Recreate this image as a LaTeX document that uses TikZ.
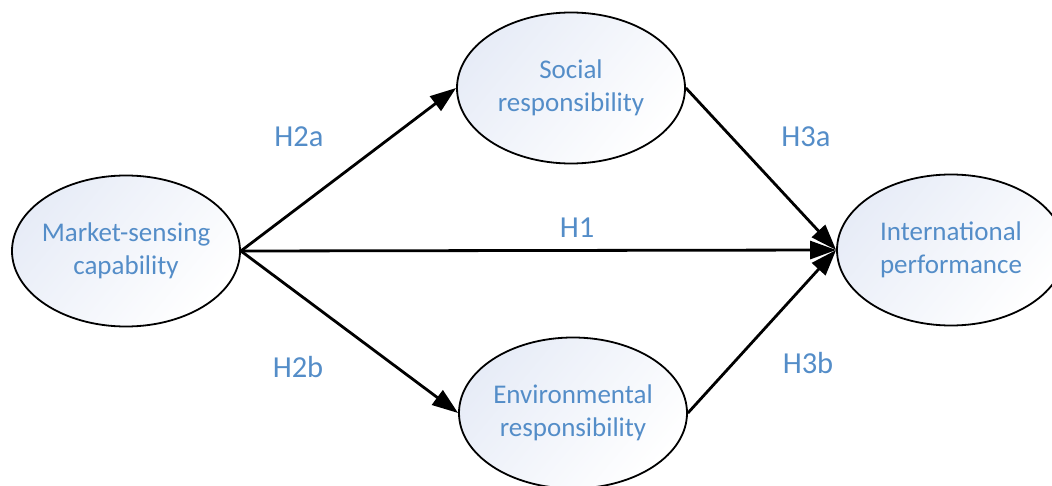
\documentclass[tikz,border=0pt]{standalone}
\usepackage{fontspec}
\setmainfont{Carlito}
\usetikzlibrary{shapes.geometric,arrows.meta}
\definecolor{txtblue}{RGB}{84,141,200}
\definecolor{fillblue}{RGB}{231,236,247}
\tikzset{
  construct/.style={ellipse, draw=black, line width=1.8pt, minimum width=228pt, minimum height=151pt,
    inner xsep=-20pt, inner ysep=0pt, align=center, text=txtblue, font=\fontsize{27}{32.5}\selectfont,
    top color=fillblue, bottom color=white, shading angle=50},
  arr/.style={line width=2.8pt, -{Triangle[length=26pt,width=18pt]}},
  hyp/.style={text=txtblue, font=\fontsize{30.5}{36}\selectfont, inner sep=0pt}
}
\begin{document}
\begin{tikzpicture}[x=1pt,y=1pt]
\useasboundingbox (0,0) rectangle (1052,485);
\clip (0,0) rectangle (1052,485);
\node[construct] (M) at (126,234) {Market-sensing\\capability};
\node[construct] (S) at (571,397) {Social\\responsibility};
\node[construct] (E) at (573,72) {Environmental\\responsibility};
\node[construct] (I) at (951,235) {International\\performance};
\draw[arr] (M.east) -- (S.west);
\draw[arr] (M.east) -- (E.west);
\draw[arr] (M.east) -- (I.west);
\draw[arr] (S.east) -- (I.west);
\draw[arr] (E.east) -- (I.west);
\node[hyp] (h2a) at (299,348) {H2a};
\node[hyp] (h1) at (577,257) {H1};
\node[hyp] (h3a) at (806,348) {H3a};
\node[hyp] (h2b) at (298,118) {H2b};
\node[hyp] (h3b) at (808,122) {H3b};
\end{tikzpicture}
\end{document}
